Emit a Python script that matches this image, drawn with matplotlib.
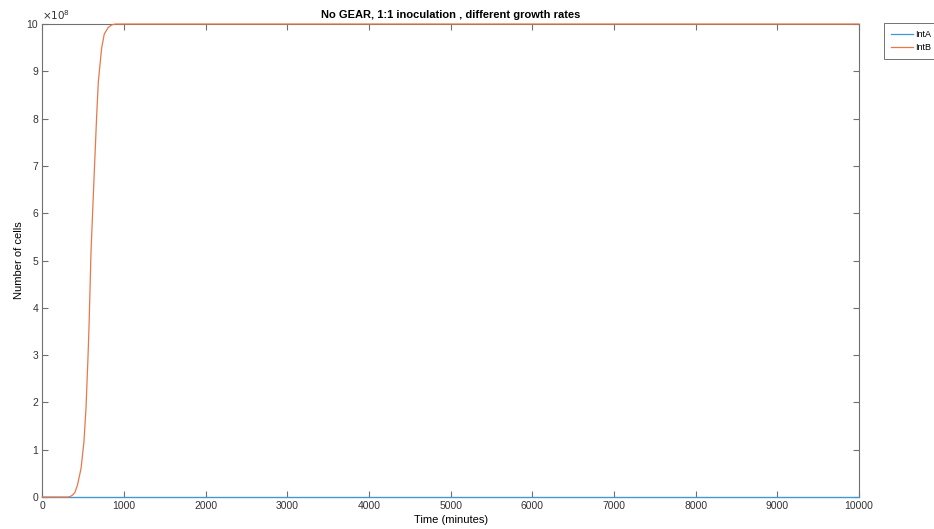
import matplotlib
matplotlib.use("Agg")
import matplotlib.pyplot as plt

plt.rcParams['font.family'] = ['Liberation Sans', 'DejaVu Sans']

# Simulation output: time in minutes, cell counts in units of 1e8
time_min = [0, 300, 318, 340, 370, 400, 430, 474, 510, 535, 559, 572, 596,
            637, 649, 666, 686, 727, 759, 808, 850, 880, 902, 10000]
int_b = [0, 0, 0.0, 0.01, 0.04, 0.1, 0.25, 0.6, 1.17, 1.88, 2.94, 3.6, 5.17,
         6.9, 7.38, 8.08, 8.78, 9.5, 9.79, 9.93, 9.98, 9.995, 10, 10]
int_a = [0, 0, 0, 0, 0, 0, 0, 0, 0, 0, 0, 0, 0,
         0, 0, 0, 0, 0, 0, 0, 0, 0, 0, 0]

x_ticks = [0, 1000, 2000, 3000, 4000, 5000, 6000, 7000, 8000, 9000, 10000]
y_ticks = [0, 1, 2, 3, 4, 5, 6, 7, 8, 9, 10]

fig = plt.figure(figsize=(9.34, 5.29), dpi=100)
ax = fig.add_axes([0.0453, 0.0605, 0.8744, 0.8941])

blue = '#3E9AD6'
orange = '#E8774A'
ax.plot(time_min, int_a, color=blue, lw=0.9, label='IntA',
        clip_on=False, zorder=5)
ax.plot(time_min, int_b, color=orange, lw=0.9, label='IntB',
        clip_on=False, zorder=6)

ax.set_xlim(0, 10000)
ax.set_ylim(0, 10)
ax.set_xticks(x_ticks)
ax.set_yticks(y_ticks)
ax.set_xticklabels([str(t) for t in x_ticks])
ax.set_yticklabels([str(t) for t in y_ticks])

axis_col = '#707070'
for s in ax.spines.values():
    s.set_color(axis_col)
    s.set_linewidth(0.8)
ax.tick_params(direction='in', length=4, width=0.8, color=axis_col,
               labelsize=7.5, labelcolor='#333333', top=True, right=True,
               pad=3)

ax.text(0.0, 1.004, r'$\times 10^{8}$', transform=ax.transAxes,
        fontsize=7.5, color='#333333', ha='left', va='bottom')

ax.set_title('No GEAR, 1:1 inoculation , different growth rates',
             fontsize=8, fontweight='bold', pad=4)
ax.set_xlabel('Time (minutes)', fontsize=8, labelpad=3)
ax.set_ylabel('Number of cells', fontsize=8, labelpad=2)

leg = fig.legend(loc='upper left', bbox_to_anchor=(884 / 934, 1 - 23 / 529),
                 fontsize=6.5, frameon=True, fancybox=False,
                 edgecolor='#333333', handlelength=2.5, handletextpad=0.2,
                 borderpad=0.75, labelspacing=0.5, borderaxespad=0)
leg.get_frame().set_linewidth(0.6)

fig.savefig('out.png', dpi=100)
